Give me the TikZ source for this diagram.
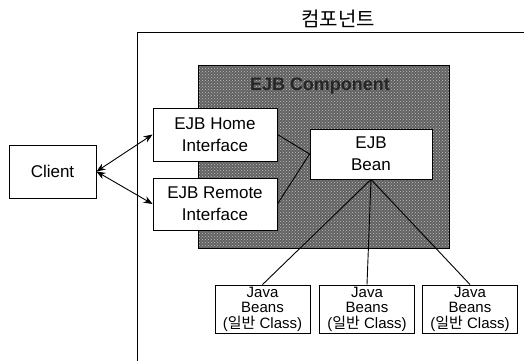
\documentclass[tikz,border=0pt]{standalone}
\usepackage{fontspec}
\setmainfont{Liberation Sans}
\newfontfamily\kr{Noto Sans CJK KR}
\usetikzlibrary{arrows.meta,patterns}
\begin{document}
\begin{tikzpicture}[x=1pt,y=-1pt,
  box/.style={draw=black,line width=0.9pt,fill=white,align=center,
    inner sep=0pt,font=\fontsize{17}{22}\selectfont},
  beanbox/.style={box,minimum width=95pt,minimum height=48pt,
    font=\fontsize{15}{15.5}\selectfont},
  link/.style={line width=0.9pt,draw=black},
  biarrow/.style={link,{Stealth[length=9pt,width=7pt]}-{Stealth[length=9pt,width=7pt]}}]
\useasboundingbox (0,0) rectangle (524,361);
\fill[white] (0,0) rectangle (524,361);

% container frame and its title
\draw[line width=0.9pt] (524,32) -- (137,32) -- (137,361);
\node (title) at (338,19) {\kr\fontsize{20}{24}\selectfont 컴포넌트};

% shaded EJB component area
\fill[black!62] (198,65) rectangle (449,248);
\fill[pattern=crosshatch dots,pattern color=black!25] (198,65) rectangle (449,248);
\draw[line width=1pt] (198,65) rectangle (449,248);
\node[font=\bfseries\fontsize{18}{22}\selectfont,text=black!85] (ejbc) at (320,86) {EJB Component};

% boxes
\node[box,minimum width=87pt,minimum height=53pt] (client) at (52.5,171.5) {Client};
\node[box,minimum width=124pt,minimum height=53pt] (home) at (215,134.5) {EJB Home\\Interface};
\node[box,minimum width=124pt,minimum height=52pt] (remote) at (215,204) {EJB Remote\\Interface};
\node[box,minimum width=122pt,minimum height=50pt] (bean) at (371,154) {EJB\\Bean};
\node[beanbox] (jb1) at (262.5,309) {Java\\Beans\\({\kr 일반} Class)};
\node[beanbox] (jb2) at (367,309) {Java\\Beans\\({\kr 일반} Class)};
\node[beanbox] (jb3) at (470,309) {Java\\Beans\\({\kr 일반} Class)};

% connectors
\draw[biarrow] (client.east) -- (home.west);
\draw[biarrow] (client.east) -- (remote.west);
\draw[link] (home.east) -- (bean.west);
\draw[link] (remote.east) -- (bean.west);
\draw[link] (bean.south) -- (jb1.north);
\draw[link] (bean.south) -- (jb2.north);
\draw[link] (bean.south) -- (jb3.north);
\end{tikzpicture}
\end{document}
